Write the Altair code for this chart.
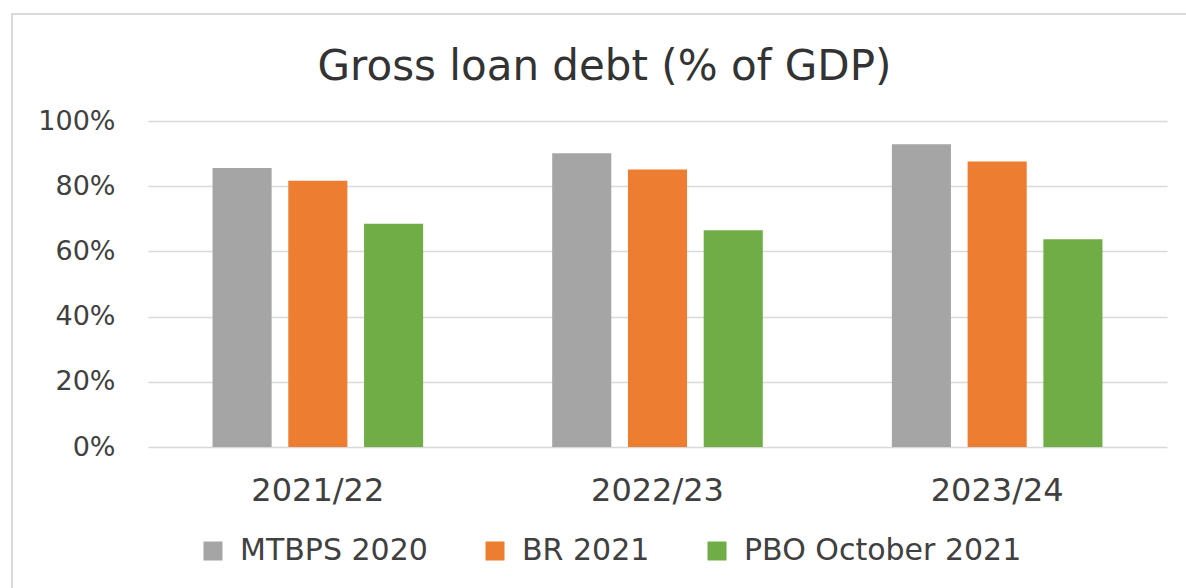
import altair as alt
import pandas as pd

years = ["2021/22", "2022/23", "2023/24"]
series = ["MTBPS 2020", "BR 2021", "PBO October 2021"]
mtbps_2020 = [85.6, 90.1, 92.9]
br_2021 = [81.7, 85.1, 87.6]
pbo_oct_2021 = [68.5, 66.5, 63.7]
colors = ["#A5A5A5", "#ED7D31", "#70AD47"]
y_ticks = [0, 0.2, 0.4, 0.6, 0.8, 1.0]

rows = []
for s, vals in zip(series, [mtbps_2020, br_2021, pbo_oct_2021]):
    for yr, v in zip(years, vals):
        rows.append({"year": yr, "series": s, "value": v / 100})
df = pd.DataFrame(rows)

FONT = "DejaVu Sans"
TXT = "#404040"

frame = alt.Chart(pd.DataFrame({"a": [0]})).mark_rect(
    fillOpacity=0, stroke="#D9D9D9", strokeWidth=2, clip=False
).encode(
    x=alt.value(-136), x2=alt.value(1045), y=alt.value(-107), y2=alt.value(475)
)

bars = alt.Chart(df).mark_bar().encode(
    x=alt.X(
        "year:N", sort=years,
        scale=alt.Scale(paddingInner=0.38, paddingOuter=0.19),
        axis=alt.Axis(title=None, labelAngle=0, labelFontSize=32, labelFont=FONT,
                      labelColor=TXT, labelPadding=28, ticks=False, domain=False, grid=False),
    ),
    xOffset=alt.XOffset("series:N", sort=series,
                        scale=alt.Scale(paddingInner=0.22, paddingOuter=0)),
    y=alt.Y(
        "value:Q", scale=alt.Scale(domain=[0, 1]),
        axis=alt.Axis(title=None, values=y_ticks, format=".0%", labelFontSize=27,
                      labelFont=FONT, labelColor=TXT, labelPadding=33, ticks=False,
                      domain=False, grid=True, gridColor="#D9D9D9", gridWidth=1.5),
    ),
    color=alt.Color(
        "series:N", sort=series,
        scale=alt.Scale(domain=series, range=colors),
        legend=alt.Legend(
            title=None, orient="none", legendX=50, legendY=415, direction="horizontal",
            symbolType="square", symbolSize=361, symbolStrokeWidth=0,
            labelFontSize=30, labelFont=FONT, labelColor=TXT, columnPadding=52,
            labelOffset=12, padding=0, labelLimit=0,
        ),
    ),
)

chart = alt.layer(frame, bars).properties(
    width=1019,
    height=326,
    autosize=alt.AutoSizeParams(type="none"),
    padding={"left": 148, "top": 121, "right": 19, "bottom": 141},
    title=alt.TitleParams(
        "Gross loan debt (% of GDP)", fontSize=42, font=FONT, fontWeight="normal",
        color="#333333", anchor="middle", offset=-76, dx=-53,
    ),
).configure_view(stroke=None)

chart.save("out.html", embed_options={"renderer": "svg", "actions": False})
